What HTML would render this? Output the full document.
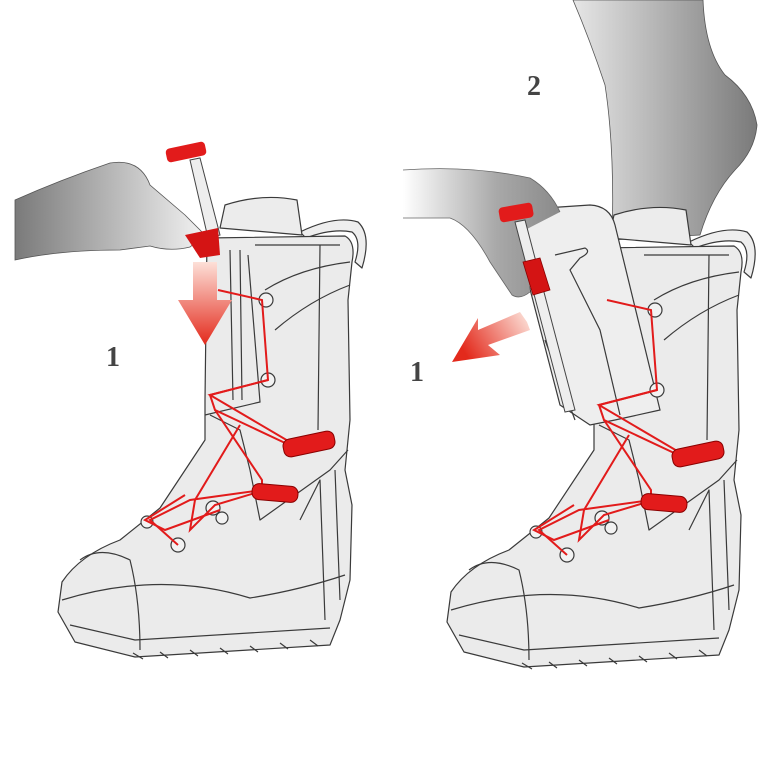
<!DOCTYPE html>
<html><head><meta charset="utf-8"><style>body{margin:0;background:#fff}svg{display:block}</style></head><body>
<svg width="776" height="776" viewBox="0 0 776 776" xmlns="http://www.w3.org/2000/svg">
<defs>
<linearGradient id="hg" x1="0" x2="1"><stop offset="0" stop-color="#7a7a7a"/><stop offset="1" stop-color="#f2f2f2"/></linearGradient>
<linearGradient id="hg2" x1="0" x2="1"><stop offset="0" stop-color="#ffffff"/><stop offset="0.6" stop-color="#a8a8a8"/><stop offset="1" stop-color="#8a8a8a"/></linearGradient>
<linearGradient id="lg" x1="0" x2="1"><stop offset="0" stop-color="#e6e6e6"/><stop offset="1" stop-color="#7a7a7a"/></linearGradient>
<linearGradient id="ad" x1="0" y1="0" x2="0" y2="1"><stop offset="0" stop-color="#fde0d8"/><stop offset="1" stop-color="#e32a1c"/></linearGradient>
<linearGradient id="al" x1="1" y1="0" x2="0" y2="0.4"><stop offset="0" stop-color="#fde8e0"/><stop offset="1" stop-color="#e32a1c"/></linearGradient>
<g id="boot" stroke="#3a3a3a" stroke-width="1.2" stroke-linejoin="round">
<path d="M300,232 Q335,215 358,222 Q372,235 362,268 L355,262 Q362,240 352,232 Q332,228 306,238Z" fill="#eee"/>
<path d="M220,228 L225,205 Q262,193 297,200 L302,235 Z" fill="#ececec"/>
<path d="M207,238 L345,236 Q356,242 352,262 L348,300 L350,420 L345,470 L352,505 L350,580 L340,620 L330,645 L135,657 L75,642 L58,612 L62,582 Q80,555 120,540 L160,508 L205,440 L205,400 Z" fill="#ebebeb"/>
<path d="M62,600 Q160,570 250,598 Q300,590 345,575" fill="none"/>
<path d="M70,625 L135,640 L330,628" fill="none"/>
<path d="M80,560 Q100,545 130,560 Q140,600 140,650" fill="none"/>
<path d="M210,415 L240,430 L250,470 L260,520 L330,470 L348,450" fill="none"/>
<path d="M255,245 L340,245 M320,245 L318,430" fill="none"/>
<path d="M275,330 Q310,300 350,285 M265,290 Q300,268 350,262" fill="none"/>
<path d="M300,520 L320,480 L325,620 M335,470 L340,600" fill="none"/>
<g fill="#f2f2f2"><circle cx="213" cy="508" r="7"/><circle cx="147" cy="522" r="6"/><circle cx="178" cy="545" r="7"/><circle cx="222" cy="518" r="6"/></g>
<path d="M133,653 l10,6 M160,652 l8,6 M190,650 l8,6 M220,648 l8,6 M250,646 l8,6 M280,643 l8,6 M310,640 l8,6" fill="none"/>
</g>
<g id="shaftL" stroke="#3a3a3a" stroke-width="1.2" fill="none">
<path d="M248,255 L260,402 L205,415"/>
<path d="M230,250 L233,400 M240,250 L242,400"/>
</g>
<g id="eyes" stroke="#3a3a3a" stroke-width="1.2" fill="#f2f2f2"><circle cx="266" cy="300" r="7"/><circle cx="268" cy="380" r="7"/></g>
<g id="laces" stroke="#e21b1b" stroke-width="2" fill="none">
<path d="M218,290 L262,300 L268,380 L210,395 L295,445"/>
<path d="M268,380 L210,395 L215,410 L300,450"/>
<path d="M215,410 L262,480 L262,490 L190,500 L150,520 L178,545"/>
<path d="M240,425 L195,500 L190,530 L215,505 L265,490"/>
<path d="M185,495 L145,520 L165,530 L220,510"/>
</g>
<g id="locks" fill="#e21b1b" stroke="#8a0000" stroke-width="1"><rect x="283" y="435" width="52" height="18" rx="7" transform="rotate(-12 309 444)"/><rect x="252" y="485" width="46" height="16" rx="7" transform="rotate(5 275 493)"/></g>
</defs>

<path d="M15,200 Q60,180 110,163 Q140,158 150,185 L185,215 L205,235 L190,247 Q170,252 150,246 L120,250 Q60,250 15,260 Z" fill="url(#hg)" stroke="#555" stroke-width="0.8"/>
<path d="M573,0 L703,0 Q705,50 725,75 Q752,95 757,125 Q755,150 735,170 Q712,195 700,235 L612,240 Q615,150 605,85 Q590,40 573,0Z" fill="url(#lg)" stroke="#555" stroke-width="0.8"/>

<use href="#boot"/><use href="#shaftL"/><use href="#eyes"/><use href="#laces"/><use href="#locks"/>
<g transform="translate(389,10)"><use href="#boot"/></g>
<path d="M516,235 Q515,212 545,208 L590,205 Q610,206 615,225 L660,410 L615,420 L590,425 L560,405 Z" fill="#eee" stroke="#3a3a3a" stroke-width="1.2"/>
<path d="M555,255 L585,248 Q592,252 580,258 L570,270 L600,330 L620,415 M545,340 L575,420" fill="none" stroke="#3a3a3a" stroke-width="1.2"/>
<g transform="translate(389,10)"><use href="#eyes"/><use href="#laces"/><use href="#locks"/></g>

<path d="M190,160 L200,158 L220,235 L208,238Z" fill="#eee" stroke="#444"/>
<rect x="166" y="145" width="40" height="14" rx="4" fill="#e21b1b" transform="rotate(-12 186 152)"/>
<path d="M185,235 L218,228 L220,255 L200,258Z" fill="#d41414"/>
<path d="M193,262 L217,262 L217,300 L232,300 L205,345 L178,300 L193,300Z" fill="url(#ad)"/>

<path d="M403,170 Q470,165 530,178 Q550,190 560,212 L525,230 L530,292 Q520,300 512,295 L490,262 Q470,225 450,218 L403,218Z" fill="url(#hg2)"/>
<path d="M403,170 Q470,165 530,178 Q550,190 560,212 M530,292 Q520,300 512,295 L490,262 Q470,225 450,218 L403,218" fill="none" stroke="#666" stroke-width="0.8"/>
<path d="M515,222 L525,220 L575,410 L565,412Z" fill="#eee" stroke="#444"/>
<rect x="499" y="205" width="34" height="15" rx="4" fill="#e21b1b" transform="rotate(-10 516 212)"/>
<path d="M523,262 L540,258 L550,290 L533,295Z" fill="#d41414" stroke="#8a0000" stroke-width="0.8"/>
<path d="M527,322 L520,312 L478,330 L478,318 L452,362 L500,355 L488,345 L530,330Z" fill="url(#al)"/>

<g font-family="Liberation Serif, serif" font-weight="bold" font-size="28" fill="#444">
<text x="106" y="366">1</text><text x="410" y="381">1</text><text x="527" y="95">2</text></g>
</svg>
</body></html>
